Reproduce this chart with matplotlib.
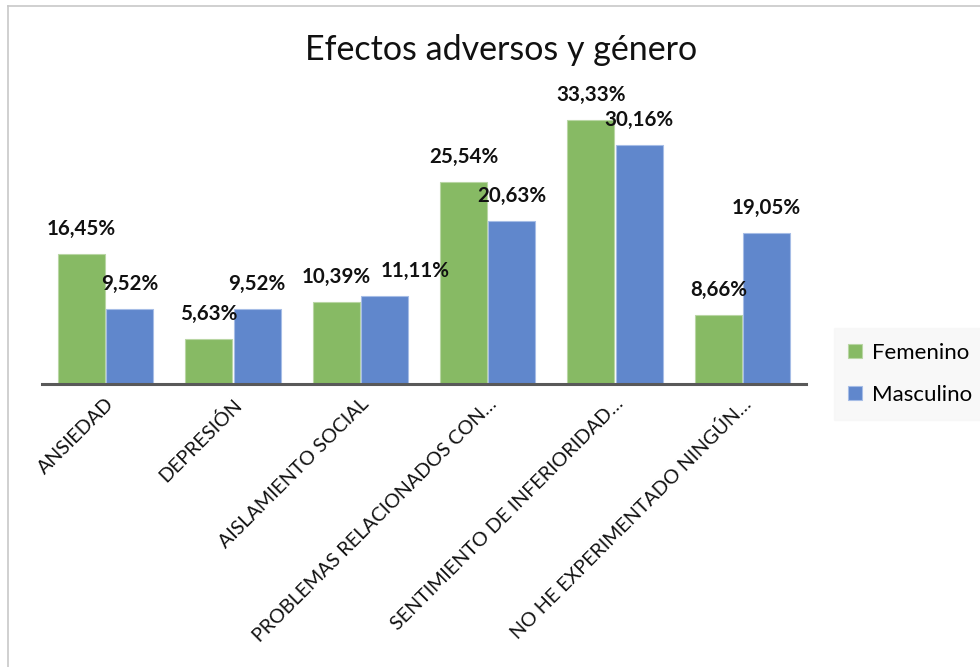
import matplotlib
matplotlib.use("Agg")
import matplotlib.pyplot as plt
import numpy as np
from matplotlib.lines import Line2D

plt.rcParams['font.family'] = ['Lato', 'DejaVu Sans']

categories = ["ANSIEDAD", "DEPRESIÓN", "AISLAMIENTO SOCIAL",
              "PROBLEMAS RELACIONADOS CON…", "SENTIMIENTO DE INFERIORIDAD…",
              "NO HE EXPERIMENTADO NINGÚN…"]
femenino = [16.45, 5.63, 10.39, 25.54, 33.33, 8.66]
masculino = [9.52, 9.52, 11.11, 20.63, 30.16, 19.05]

GREEN = "#87BA64"
BLUE = "#6087CC"

W, H = 980, 667
fig = plt.figure(figsize=(W / 100, H / 100), dpi=100)

# plot area in pixel coords
left, right, bottom, top = 42, 806, 384, 100
ax = fig.add_axes([left / W, 1 - bottom / H, (right - left) / W, (bottom - top) / H])

x = np.arange(len(categories))
bw = 0.37
b1 = ax.bar(x - bw / 2 - 0.004, femenino, bw, color=GREEN, edgecolor="#B9D6A4", linewidth=0.8, label="Femenino")
b2 = ax.bar(x + bw / 2 + 0.004, masculino, bw, color=BLUE, edgecolor="#A6BDE6", linewidth=0.8, label="Masculino")

ax.set_xlim(-0.5, len(categories) - 0.5)
ax.set_ylim(0, (bottom - top) / 7.92)

def fmt(v):
    return f"{v:.2f}".replace(".", ",") + "%"

# small horizontal nudge for the label Excel moved to avoid overlap
nudge = {(1, 2): 22}
for si, bars in enumerate([b1, b2]):
    for ci, rect in enumerate(bars):
        v = rect.get_height()
        dx = nudge.get((si, ci), 0)
        ax.annotate(fmt(v), (rect.get_x() + rect.get_width() / 2, v),
                    xytext=(dx, 18), textcoords="offset points",
                    ha="center", va="center", fontsize=14.8, fontweight="bold",
                    color="#111111")

for s in ["top", "right", "left"]:
    ax.spines[s].set_visible(False)
ax.spines["bottom"].set_color("#595959")
ax.spines["bottom"].set_linewidth(2.2)
ax.set_yticks([])
ax.set_xticks(x)
ax.set_xticklabels(categories, rotation=45, ha="right", va="top",
                   rotation_mode="anchor", fontsize=14.2, color="#111111")
ax.tick_params(axis="x", length=0, pad=8)

fig.text(501 / W, 1 - 50 / H, "Efectos adversos y género", ha="center", va="center",
         fontsize=24.5, color="#111111")

leg = ax.legend(loc="center left", bbox_to_anchor=(834 / W, 1 - 374 / H),
                bbox_transform=fig.transFigure, frameon=True, fontsize=16,
                handlelength=0.6, handleheight=0.6, handletextpad=0.45,
                labelspacing=1.0, borderpad=0.65, borderaxespad=0, fancybox=False)
leg.get_frame().set_facecolor("#F7F7F7")
leg.get_frame().set_edgecolor("#F7F7F7")

# chart-area border (top and left edges visible)
fig.add_artist(Line2D([8 / W, 1], [1 - 6 / H, 1 - 6 / H], color="#C8C8C8", lw=1.2))
fig.add_artist(Line2D([8 / W, 8 / W], [0, 1 - 6 / H], color="#C8C8C8", lw=1.2))

fig.savefig("out.png", dpi=100)
